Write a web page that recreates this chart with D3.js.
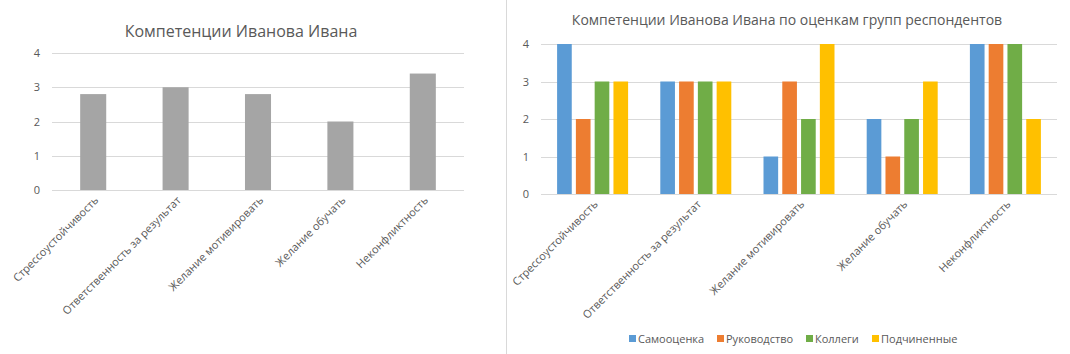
<!DOCTYPE html>
<html>
<head>
<meta charset="utf-8">
<script src="https://cdn.jsdelivr.net/npm/d3@7"></script>
<style>
  body { margin: 0; background: #fff; }
  text { font-family: "Open Sans", sans-serif; fill: #595959; }
</style>
</head>
<body>
<svg id="chart"></svg>
<script>
var categories = ["Стрессоустойчивость", "Ответственность за результат", "Желание мотивировать", "Желание обучать", "Неконфликтность"];
var overall = [2.8, 3, 2.8, 2, 3.4];
var groups = ["Самооценка", "Руководство", "Коллеги", "Подчиненные"];
var selfScore = [4, 3, 1, 2, 4];
var bossScore = [2, 3, 3, 1, 4];
var peerScore = [3, 3, 2, 2, 4];
var subScore = [3, 3, 4, 3, 2];
var yTicks = [0, 1, 2, 3, 4];
var colors = ["#5b9bd5", "#ed7d31", "#70ad47", "#ffc000"];

var width = 1070, height = 354;
var svg = d3.select("#chart").attr("width", width).attr("height", height);
svg.append("rect").attr("width", width).attr("height", height).attr("fill", "#fff");

// divider between the two charts
svg.append("line")
   .attr("x1", 506.5).attr("x2", 506.5).attr("y1", 0).attr("y2", height)
   .attr("stroke", "#d9d9d9");

function drawAxes(g, x, y, left, right, labelDx, labelDy) {
    g.selectAll(".grid")
     .data(yTicks)
     .enter()
     .append("line")
     .attr("x1", left).attr("x2", right)
     .attr("y1", function(d) { return Math.round(y(d)) + 0.5; })
     .attr("y2", function(d) { return Math.round(y(d)) + 0.5; })
     .attr("stroke", "#d9d9d9");
    g.selectAll(".ytick")
     .data(yTicks)
     .enter()
     .append("text")
     .attr("x", left - 15)
     .attr("y", function(d) { return y(d) + 4; })
     .attr("text-anchor", "middle")
     .style("font-size", "11px")
     .text(function(d) { return d; });
    g.selectAll(".xlab")
     .data(categories)
     .enter()
     .append("text")
     .attr("text-anchor", "end")
     .style("font-size", "11px")
     .attr("transform", function(d) {
         var cx = x(d) + x.bandwidth() / 2 + labelDx;
         return "translate(" + cx + "," + (y(0) + labelDy) + ") rotate(-45)";
     })
     .text(function(d) { return d; });
}

// ---- left chart
var left = svg.append("g");
var x1 = d3.scaleBand().domain(categories).range([52, 464]).paddingInner(0.684).paddingOuter(0.342);
var y1 = d3.scaleLinear().domain([0, 4]).range([190, 53]);

left.append("text")
    .attr("x", 241).attr("y", 37)
    .attr("text-anchor", "middle")
    .style("font-size", "16px")
    .text("Компетенции Иванова Ивана");

drawAxes(left, x1, y1, 52, 464, 6, 11);

left.selectAll(".bar")
    .data(overall)
    .enter()
    .append("rect")
    .attr("x", function(d, i) { return x1(categories[i]); })
    .attr("width", x1.bandwidth())
    .attr("y", function(d) { return y1(d); })
    .attr("height", function(d) { return y1(0) - y1(d); })
    .attr("fill", "#a5a5a5");

// ---- right chart
var right = svg.append("g");
var series = [selfScore, bossScore, peerScore, subScore];
var x2 = d3.scaleBand().domain(categories).range([541, 1057]).paddingInner(0.312).paddingOuter(0.156);
var xs = d3.scaleBand().domain(groups).range([0, x2.bandwidth()]).paddingInner(0.22);
var y2 = d3.scaleLinear().domain([0, 4]).range([194, 44]);

right.append("text")
     .attr("x", 787).attr("y", 25)
     .attr("text-anchor", "middle")
     .style("font-size", "14px")
     .text("Компетенции Иванова Ивана по оценкам групп респондентов");

drawAxes(right, x2, y2, 541, 1057, 6, 11);

series.forEach(function(vals, s) {
    right.append("g")
         .selectAll("rect")
         .data(vals)
         .enter()
         .append("rect")
         .attr("x", function(d, i) { return x2(categories[i]) + xs(groups[s]); })
         .attr("width", xs.bandwidth())
         .attr("y", function(d) { return y2(d); })
         .attr("height", function(d) { return y2(0) - y2(d); })
         .attr("fill", colors[s]);
});

// legend
var legendX = [629, 717, 806, 872];
var legend = right.selectAll(".legend")
                  .data(groups)
                  .enter()
                  .append("g")
                  .attr("transform", function(d, i) { return "translate(" + legendX[i] + ",335)"; });
legend.append("rect")
      .attr("width", 7).attr("height", 7)
      .attr("fill", function(d, i) { return colors[i]; });
legend.append("text")
      .attr("x", 9).attr("y", 7.5)
      .style("font-size", "11px")
      .text(function(d) { return d; });
</script>
</body>
</html>
